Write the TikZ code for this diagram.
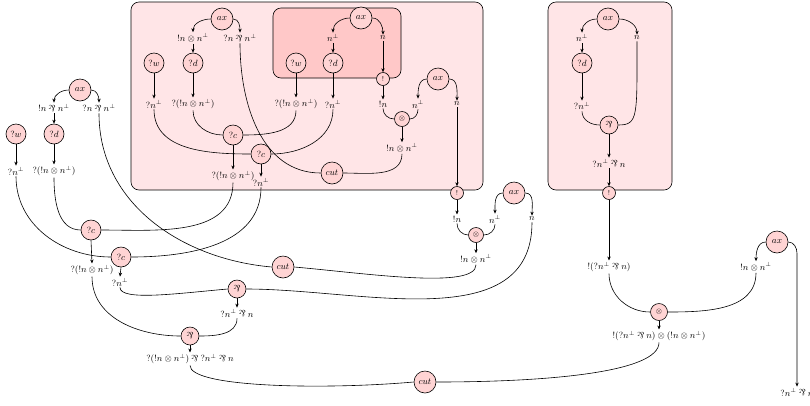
\documentclass[tikz,border=0pt]{standalone}
\usepackage{graphicx}
\usetikzlibrary{arrows.meta}
\definecolor{nodepink}{RGB}{255,212,212}
\definecolor{boxpink}{RGB}{255,229,231}
\definecolor{innerpink}{RGB}{255,200,200}
\newcommand{\mypar}{\mathbin{\rotatebox[origin=c]{180}{$\&$}}}
\newcommand{\prp}{^{\perp}}
\begin{document}
\begin{tikzpicture}[x=1pt,y=1pt,
 lk/.style={circle,draw,fill=nodepink,inner sep=0pt,line width=0.6pt,font=\small},
 big/.style={lk,minimum size=22pt},
 mid/.style={lk,minimum size=20pt},
 prn/.style={lk,minimum size=18pt},
 tns/.style={lk,minimum size=15pt,font=\scriptsize},
 bng/.style={lk,minimum size=13pt,font=\scriptsize},
 lb/.style={inner sep=1.2pt,font=\small},
 ar/.style={-{Stealth[length=4pt,width=3.4pt]}},
 ln/.style={line width=0.6pt},
 bx/.style={draw,rounded corners=8pt,line width=0.6pt}]
\useasboundingbox (0,0) rectangle (810,-405);
\draw[bx,fill=boxpink] (131,-2) rectangle (483,-190);
\draw[bx,fill=innerpink] (273,-8) rectangle (401,-78);
\draw[bx,fill=boxpink] (548,-2) rectangle (672,-190);
% left part
\node[big] (axL) at (80,-90) {$ax$};
\node[lb] (lA) at (54,-108) {$!n\mypar n\prp$};
\node[lb] (lB) at (99,-108) {$?n\mypar n\prp$};
\node[mid] (wL) at (16,-134) {$?w$};
\node[mid] (dL) at (54,-134) {$?d$};
\node[lb] (lw) at (16,-171) {$?n\prp$};
\node[lb] (ld) at (54,-171) {$?(!n\otimes n\prp)$};
\node[mid] (cL1) at (91,-230) {$?c$};
\node[lb] (lc1) at (92,-270) {$?(!n\otimes n\prp)$};
\node[mid] (cL2) at (121,-257) {$?c$};
\node[lb] (lc2) at (120,-282) {$?n\prp$};
\node[prn] (p1) at (237,-289) {$\mypar$};
\node[lb] (lp1) at (237,-313) {$?n\prp\mypar n$};
\node[prn] (p2) at (190,-336) {$\mypar$};
\node[lb] (lp2) at (190,-359) {$?(!n\otimes n\prp)\mypar {?}n\prp\mypar n$};
\node[big] (cut1) at (283,-267) {$cut$};
\node[big] (cut2) at (425,-382) {$cut$};
% big box
\node[big] (axB) at (222,-19) {$ax$};
\node[lb] (bA) at (193,-38) {$!n\otimes n\prp$};
\node[lb] (bB) at (240,-38) {$?n\mypar n\prp$};
\node[mid] (wB) at (154,-63) {$?w$};
\node[mid] (dB) at (193,-63) {$?d$};
\node[lb] (bw) at (154,-104) {$?n\prp$};
\node[lb] (bd) at (193,-104) {$?(!n\otimes n\prp)$};
\node[mid] (cB1) at (233,-135) {$?c$};
\node[lb] (bc1) at (233,-176) {$?(!n\otimes n\prp)$};
\node[mid] (cB2) at (261,-154) {$?c$};
\node[lb] (bc2) at (261,-182) {$?n\prp$};
% inner box
\node[big] (axI) at (361,-18) {$ax$};
\node[lb] (iA) at (333,-38) {$n\prp$};
\node[lb] (iB) at (383,-38) {$n$};
\node[mid] (wI) at (296,-63) {$?w$};
\node[mid] (dI) at (333,-63) {$?d$};
\node[bng] (bI) at (383,-79) {$!$};
\node[lb] (iw) at (296,-104) {$?(!n\otimes n\prp)$};
\node[lb] (id) at (333,-104) {$?n\prp$};
\node[lb] (inn) at (383,-104) {$!n$};
\node[lb] (itp) at (418,-104) {$n\prp$};
\node[big] (axB2) at (438,-79) {$ax$};
\node[lb] (itn) at (457,-104) {$n$};
\node[tns] (t1) at (402,-119) {$\otimes$};
\node[lb] (it) at (402,-148) {$!n\otimes n\prp$};
\node[big] (cutB) at (332,-173) {$cut$};
\node[bng] (bB2) at (457,-193) {$!$};
% outside middle
\node[lb] (on) at (457,-219) {$!n$};
\node[tns] (t2) at (476,-235) {$\otimes$};
\node[big] (axO) at (514,-193) {$ax$};
\node[lb] (onp) at (495,-219) {$n\prp$};
\node[lb] (onn) at (532,-219) {$n$};
\node[lb] (ot) at (476,-259) {$!n\otimes n\prp$};
% right box
\node[big] (axR) at (608,-19) {$ax$};
\node[lb] (rA) at (582,-38) {$n\prp$};
\node[lb] (rB) at (637,-38) {$n$};
\node[mid] (dR) at (582,-63) {$?d$};
\node[lb] (rd) at (582,-106) {$?n\prp$};
\node[prn] (pR) at (609,-125) {$\mypar$};
\node[lb] (rp) at (609,-163) {$?n\prp\mypar n$};
\node[bng] (bR) at (609,-193) {$!$};
\node[lb] (r1) at (609,-267) {$!(?n\prp\mypar n)$};
\node[tns,minimum size=17pt] (tR) at (659,-312) {$\otimes$};
\node[big] (axR2) at (777,-242) {$ax$};
\node[lb] (r2) at (756,-267) {$!n\otimes n\prp$};
\node[lb] (r3) at (659,-336) {$!(?n\prp\mypar n)\otimes(!n\otimes n\prp)$};
\node[lb] (r4) at (797,-392) {$?n\prp\mypar n$};
% left edges
\draw[ln,ar] (axL.west) to[out=180,in=90] (lA.north);
\draw[ln,ar] (axL.east) to[out=0,in=90] (lB.north);
\draw[ln,ar] (lA.south) -- (dL.north);
\draw[ln,ar] (dL.south) -- (ld.north);
\draw[ln,ar] (wL.south) -- (lw.north);
\draw[ln] (ld.south) to[out=-90,in=180] (cL1.west);
\draw[ln] (bc1.south) to[out=-90,in=0] (cL1.east);
\draw[ln,ar] (cL1.south) -- (lc1.north);
\draw[ln] (lw.south) to[out=-90,in=180] (cL2.west);
\draw[ln] (bc2.south) to[out=-90,in=0] (cL2.east);
\draw[ln,ar] (cL2.south) -- (lc2.north);
\draw[ln] (lB.south) to[out=-90,in=175] (cut1.west);
\draw[ln] (cut1.east) to[out=-5,in=-90,in distance=25pt] (ot.south);
\draw[ln] (lc2.south) to[out=-90,in=185,out distance=14pt,in distance=50pt] (p1.west);
\draw[ln] (onn.south) to[out=-90,in=0] (p1.east);
\draw[ln,ar] (p1.south) -- (lp1.north);
\draw[ln] (lc1.south) to[out=-90,in=180] (p2.west);
\draw[ln] (lp1.south) to[out=-90,in=0] (p2.east);
\draw[ln,ar] (p2.south) -- (lp2.north);
\draw[ln] (lp2.south) to[out=-90,in=185,out distance=22pt,in distance=90pt] (cut2.west);
\draw[ln] (cut2.east) to[out=0,in=-90,out distance=110pt,in distance=30pt] (r3.south);
% big box edges
\draw[ln,ar] (axB.west) to[out=180,in=90] (bA.north);
\draw[ln,ar] (axB.east) to[out=0,in=90] (bB.north);
\draw[ln,ar] (bA.south) -- (dB.north);
\draw[ln,ar] (dB.south) -- (bd.north);
\draw[ln,ar] (wB.south) -- (bw.north);
\draw[ln] (bd.south) to[out=-90,in=180] (cB1.west);
\draw[ln] (iw.south) to[out=-90,in=0] (cB1.east);
\draw[ln,ar] (cB1.south) -- (bc1.north);
\draw[ln] (bw.south) to[out=-90,in=180] (cB2.west);
\draw[ln] (id.south) to[out=-90,in=0] (cB2.east);
\draw[ln,ar] (cB2.south) -- (bc2.north);
\draw[ln] (bB.south) to[out=-90,in=180] (cutB.west);
\draw[ln] (cutB.east) to[out=0,in=-90] (it.south);
% inner edges
\draw[ln,ar] (axI.west) to[out=180,in=90] (iA.north);
\draw[ln,ar] (axI.east) to[out=0,in=90] (iB.north);
\draw[ln,ar] (iA.south) -- (dI.north);
\draw[ln,ar] (dI.south) -- (id.north);
\draw[ln,ar] (wI.south) -- (iw.north);
\draw[ln,ar] (iB.south) -- (bI.north);
\draw[ln,ar] (bI.south) -- (inn.north);
\draw[ln] (inn.south) to[out=-90,in=180] (t1.west);
\draw[ln] (itp.south) to[out=-90,in=0] (t1.east);
\draw[ln,ar] (t1.south) -- (it.north);
\draw[ln,ar] (axB2.west) to[out=180,in=90] (itp.north);
\draw[ln,ar] (axB2.east) to[out=0,in=90] (itn.north);
\draw[ln,ar] (itn.south) -- (bB2.north);
\draw[ln,ar] (bB2.south) -- (on.north);
\draw[ln] (on.south) to[out=-90,in=180] (t2.west);
\draw[ln] (onp.south) to[out=-90,in=0] (t2.east);
\draw[ln,ar] (t2.south) -- (ot.north);
\draw[ln,ar] (axO.west) to[out=180,in=90] (onp.north);
\draw[ln,ar] (axO.east) to[out=0,in=90] (onn.north);
% right edges
\draw[ln,ar] (axR.west) to[out=180,in=90] (rA.north);
\draw[ln,ar] (axR.east) to[out=0,in=90] (rB.north);
\draw[ln,ar] (rA.south) -- (dR.north);
\draw[ln,ar] (dR.south) -- (rd.north);
\draw[ln] (rd.south) to[out=-90,in=180] (pR.west);
\draw[ln] (rB.south) .. controls +(0,-75) and +(20,0) .. (pR.east);
\draw[ln,ar] (pR.south) -- (rp.north);
\draw[ln,ar] (rp.south) -- (bR.north);
\draw[ln,ar] (bR.south) -- (r1.north);
\draw[ln] (r1.south) to[out=-90,in=180] (tR.west);
\draw[ln] (r2.south) to[out=-90,in=0] (tR.east);
\draw[ln,ar] (tR.south) -- (r3.north);
\draw[ln,ar] (axR2.west) to[out=180,in=90] (r2.north);
\draw[ln,ar] (axR2.east) to[out=0,in=90] (r4.north |- axR2.south) -- (r4.north);
\end{tikzpicture}
\end{document}
